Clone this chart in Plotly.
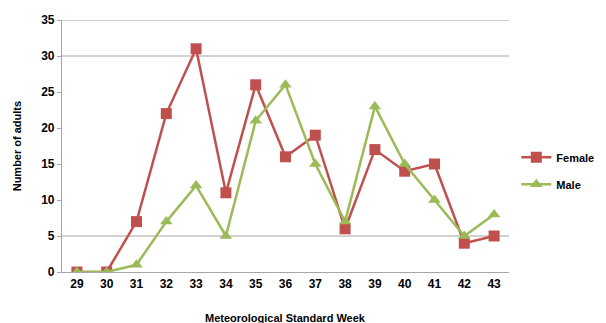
import plotly.graph_objects as go

weeks = ["29", "30", "31", "32", "33", "34", "35", "36", "37", "38", "39", "40", "41", "42", "43"]
female = [0, 0, 7, 22, 31, 11, 26, 16, 19, 6, 17, 14, 15, 4, 5]
male = [0, 0, 1, 7, 12, 5, 21, 26, 15, 7, 23, 15, 10, 5, 8]
grid_values = [5, 30, 35]

FONT = "Liberation Sans, Arial, sans-serif"

fig = go.Figure()
fig.add_trace(go.Scatter(x=weeks, y=female, name="<b>Female</b>", mode="lines+markers",
                         legendgroup="f",
                         line=dict(color="#C0504D", width=2.5),
                         marker=dict(symbol="square", size=11, color="#C0504D")))
fig.add_trace(go.Scatter(x=weeks, y=male, name="<b>Male</b>", mode="lines+markers",
                         legendgroup="m",
                         line=dict(color="#9BBB59", width=2.5),
                         marker=dict(symbol="triangle-up", size=11, color="#9BBB59")))

for g in grid_values:
    fig.add_shape(type="line", xref="paper", x0=0, x1=1, yref="y", y0=g, y1=g,
                  line=dict(color="#A6A6A6", width=1.2), layer="below")

fig.update_layout(
    width=598, height=315,
    margin=dict(l=54, r=97, t=12, b=51),
    plot_bgcolor="white", paper_bgcolor="white",
    font=dict(family=FONT, size=11, color="#000000"),
    showlegend=True,
    legend=dict(xref="container", yref="container", x=0.85, y=0.483,
                xanchor="left", yanchor="middle",
                font=dict(family=FONT, size=11, color="#000"),
                itemwidth=30, tracegroupgap=8, bgcolor="rgba(0,0,0,0)"),
    xaxis=dict(type="category", range=[-0.5, 14.5], showgrid=False, automargin=False,
               showline=True, linecolor="#A6A6A6", linewidth=1.2,
               ticks="", tickfont=dict(size=12, family=FONT),
               tickprefix="<b>", ticksuffix="</b>"),
    yaxis=dict(range=[0, 35], dtick=5, showgrid=False, zeroline=False, automargin=False,
               showline=True, linecolor="#A6A6A6", linewidth=1.2,
               ticks="outside", ticklen=4, tickcolor="#A6A6A6",
               tickfont=dict(size=12, family=FONT),
               tickprefix="<b>", ticksuffix="</b>"),
    annotations=[
        dict(text="<b>Meteorological Standard Week</b>", xref="paper", yref="paper",
             x=0.5, y=-0.152, xanchor="center", yanchor="top", showarrow=False,
             font=dict(size=11, family=FONT)),
        dict(text="<b>Number of adults</b>", xref="paper", yref="paper",
             x=-0.1, y=0.5, xanchor="center", yanchor="middle", showarrow=False,
             textangle=-90, font=dict(size=11, family=FONT)),
    ],
)

fig.write_html("out.html")
